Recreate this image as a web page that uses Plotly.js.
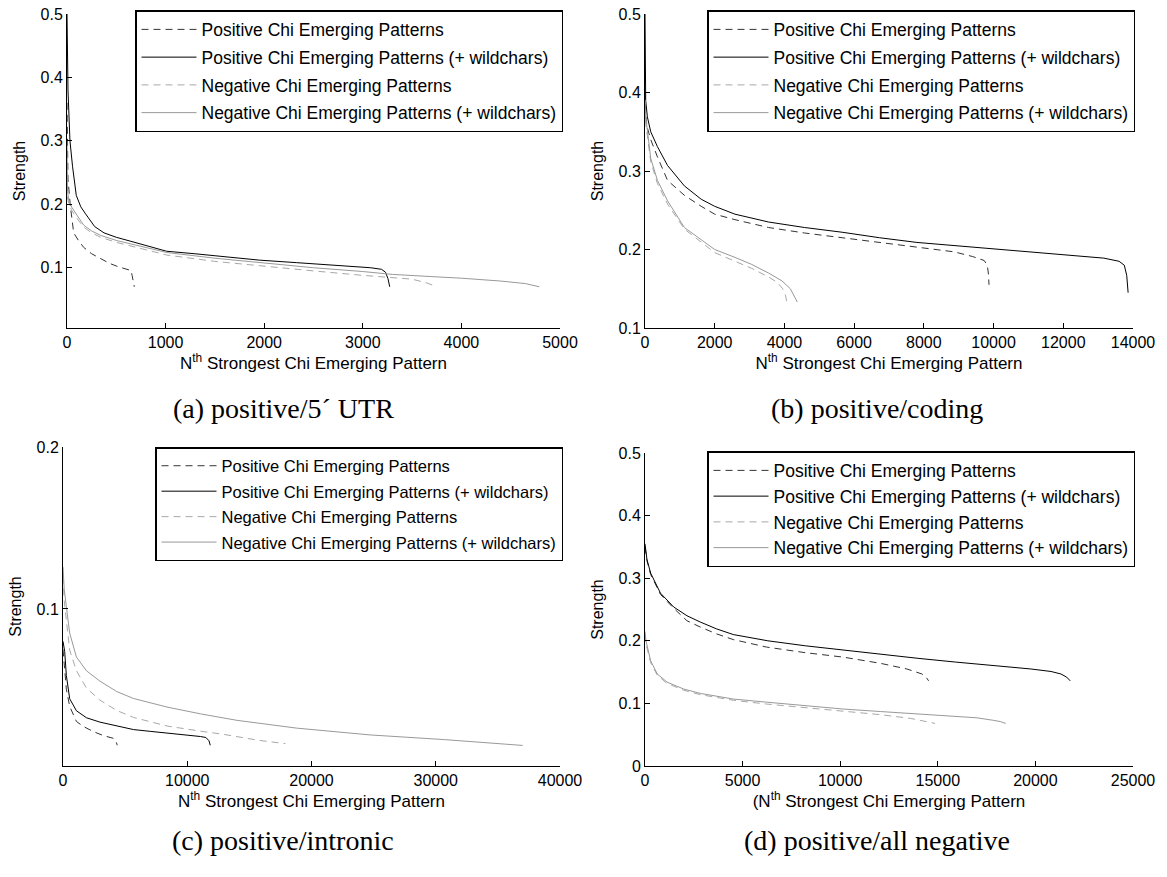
<!DOCTYPE html>
<html>
<head>
<meta charset="utf-8">
<script src="https://cdn.plot.ly/plotly-3.0.1.min.js"></script>
<style>html,body{margin:0;padding:0;background:#fff;}#chart{width:1167px;height:877px;}</style>
</head>
<body>
<div id="chart"></div>
<script>
// ---------- series names ----------
const seriesNames = [
  "Positive Chi Emerging Patterns",
  "Positive Chi Emerging Patterns (+ wildchars)",
  "Negative Chi Emerging Patterns",
  "Negative Chi Emerging Patterns (+ wildchars)"
];
const captions = ["(a) positive/5\u00b4 UTR", "(b) positive/coding", "(c) positive/intronic", "(d) positive/all negative"];
const xTitles = [
  "N<sup>th</sup> Strongest Chi Emerging Pattern",
  "N<sup>th</sup> Strongest Chi Emerging Pattern",
  "N<sup>th</sup> Strongest Chi Emerging Pattern",
  "(N<sup>th</sup> Strongest Chi Emerging Pattern"
];
const yTitle = "Strength";

// ---------- (a) positive / 5' UTR ----------
const posA_x = [0, 10, 34, 68, 120, 170, 250, 341, 430, 512, 600, 650, 660, 670, 683];
const posA_y = [0.36, 0.24, 0.197, 0.155, 0.142, 0.132, 0.122, 0.114, 0.107, 0.102, 0.098, 0.0955, 0.088, 0.078, 0.07];
const posWA_x = [0, 10, 30, 56, 94, 140, 188, 280, 375, 500, 640, 800, 1010, 1300, 1580, 1950, 2330, 2700, 3080, 3190, 3230, 3255, 3273];
const posWA_y = [0.5, 0.38, 0.3, 0.26, 0.214, 0.196, 0.185, 0.165, 0.155, 0.148, 0.142, 0.135, 0.126, 0.122, 0.118, 0.112, 0.108, 0.104, 0.1, 0.0975, 0.093, 0.083, 0.07];
const negA_x = [0, 5, 20, 50, 100, 170, 250, 341, 500, 683, 1013, 1500, 2000, 2500, 3000, 3300, 3500, 3650, 3750];
const negA_y = [0.25, 0.21, 0.2, 0.19, 0.178, 0.164, 0.155, 0.148, 0.14, 0.133, 0.12, 0.11, 0.102, 0.095, 0.088, 0.085, 0.082, 0.076, 0.07];
const negWA_x = [0, 5, 20, 50, 100, 170, 250, 341, 500, 683, 1013, 1500, 2000, 2500, 3000, 3300, 3700, 4000, 4400, 4650, 4790];
const negWA_y = [0.3, 0.22, 0.205, 0.195, 0.183, 0.167, 0.158, 0.151, 0.143, 0.136, 0.124, 0.115, 0.107, 0.1, 0.094, 0.0895, 0.086, 0.0835, 0.079, 0.075, 0.07];

// ---------- (b) positive / coding ----------
const posB_x = [0, 20, 68, 164, 357, 647, 1130, 1613, 2000, 2580, 3545, 4580, 5654, 6727, 7800, 8872, 9400, 9730, 9820, 9850, 9870];
const posB_y = [0.4, 0.37, 0.355, 0.34, 0.318, 0.288, 0.269, 0.255, 0.245, 0.238, 0.228, 0.221, 0.215, 0.209, 0.203, 0.197, 0.191, 0.186, 0.18, 0.17, 0.155];
const posWB_x = [0, 20, 68, 164, 357, 647, 1130, 1613, 2000, 2580, 3545, 4580, 5654, 6727, 7800, 8872, 9945, 11017, 12090, 13163, 13600, 13750, 13820, 13860];
const posWB_y = [0.5, 0.39, 0.369, 0.35, 0.331, 0.307, 0.281, 0.264, 0.255, 0.245, 0.235, 0.228, 0.222, 0.215, 0.209, 0.205, 0.201, 0.197, 0.193, 0.189, 0.185, 0.18, 0.167, 0.145];
const negB_x = [0, 20, 68, 164, 357, 647, 1130, 1613, 2000, 2580, 3060, 3545, 3800, 3950, 4030, 4070];
const negB_y = [0.38, 0.36, 0.345, 0.312, 0.284, 0.258, 0.226, 0.209, 0.196, 0.185, 0.176, 0.165, 0.158, 0.15, 0.142, 0.133];
const negWB_x = [0, 20, 68, 164, 357, 647, 1130, 1613, 2000, 2580, 3060, 3545, 3930, 4170, 4300, 4370];
const negWB_y = [0.39, 0.37, 0.352, 0.316, 0.288, 0.262, 0.228, 0.212, 0.2, 0.19, 0.181, 0.17, 0.16, 0.15, 0.14, 0.133];

// ---------- (c) positive / intronic ----------
const posC_x = [0, 50, 135, 270, 540, 1080, 1620, 2430, 3240, 4050, 4250, 4370];
const posC_y = [0.075, 0.07, 0.065, 0.0504, 0.0398, 0.0305, 0.0275, 0.0243, 0.0218, 0.0201, 0.0185, 0.0158];
const posWC_x = [0, 50, 135, 270, 540, 1080, 1890, 2970, 4320, 5670, 7020, 8370, 9720, 11070, 11500, 11750, 11850];
const posWC_y = [0.08, 0.078, 0.0738, 0.0589, 0.0445, 0.0371, 0.0328, 0.0301, 0.0279, 0.0255, 0.0244, 0.0234, 0.0223, 0.0212, 0.0206, 0.0186, 0.0158];
const negC_x = [0, 100, 270, 540, 1080, 1890, 2970, 4320, 5670, 8370, 11070, 12800, 15800, 17900];
const negC_y = [0.12, 0.105, 0.093, 0.0745, 0.0618, 0.0511, 0.0437, 0.0373, 0.033, 0.0277, 0.0245, 0.0227, 0.0188, 0.0168];
const negWC_x = [0, 100, 270, 540, 1080, 1890, 2970, 4320, 5670, 8370, 11070, 14000, 18800, 24700, 30700, 34000, 37000];
const negWC_y = [0.126, 0.112, 0.1015, 0.085, 0.0703, 0.0618, 0.0554, 0.049, 0.0447, 0.0394, 0.0352, 0.0312, 0.0264, 0.0222, 0.0193, 0.0175, 0.0157];

// ---------- (d) positive / all negative ----------
const posD_x = [0, 30, 100, 290, 795, 1470, 2150, 2830, 3670, 4520, 6220, 8218, 10142, 12067, 13415, 14185, 14400, 14530];
const posD_y = [0.35, 0.342, 0.328, 0.306, 0.274, 0.252, 0.232, 0.222, 0.211, 0.202, 0.19, 0.181, 0.174, 0.164, 0.155, 0.147, 0.142, 0.136];
const posWD_x = [0, 30, 100, 290, 795, 1470, 2150, 2830, 3670, 4520, 6293, 8218, 10142, 12067, 13990, 15916, 17840, 19765, 20800, 21305, 21600, 21786];
const posWD_y = [0.355, 0.345, 0.33, 0.308, 0.276, 0.254, 0.24, 0.23, 0.219, 0.21, 0.2, 0.192, 0.185, 0.178, 0.172, 0.166, 0.161, 0.155, 0.151, 0.147, 0.142, 0.136];
const negD_x = [0, 50, 290, 630, 1130, 1980, 2830, 4520, 6220, 8218, 10142, 12067, 13607, 14300, 14860];
const negD_y = [0.21, 0.195, 0.165, 0.145, 0.132, 0.121, 0.114, 0.105, 0.099, 0.093, 0.088, 0.082, 0.076, 0.072, 0.068];
const negWD_x = [0, 50, 290, 630, 1130, 1980, 2830, 4520, 6220, 8218, 10142, 12067, 13990, 15916, 17000, 17840, 18200, 18475];
const negWD_y = [0.215, 0.2, 0.168, 0.147, 0.134, 0.123, 0.116, 0.107, 0.102, 0.096, 0.091, 0.087, 0.083, 0.08, 0.077, 0.073, 0.071, 0.068];

// ---------- axis ticks ----------
const xTicksA = [0, 1000, 2000, 3000, 4000, 5000];
const xTicksB = [0, 2000, 4000, 6000, 8000, 10000, 12000, 14000];
const xTicksC = [0, 10000, 20000, 30000, 40000];
const xTicksD = [0, 5000, 10000, 15000, 20000, 25000];
const yTicksA = [0.1, 0.2, 0.3, 0.4, 0.5];
const yTicksB = [0.1, 0.2, 0.3, 0.4, 0.5];
const yTicksC = [0.1, 0.2];
const yTicksD = [0, 0.1, 0.2, 0.3, 0.4, 0.5];

// ---------- styles ----------
const styles = [
  {color: "#333333", dash: "7px,5px"},
  {color: "#000000", dash: "solid"},
  {color: "#a8a8a8", dash: "7px,5px"},
  {color: "#999999", dash: "solid"}
];

const panels = [
  {xs: [posA_x, posWA_x, negA_x, negWA_x], ys: [posA_y, posWA_y, negA_y, negWA_y]},
  {xs: [posB_x, posWB_x, negB_x, negWB_x], ys: [posB_y, posWB_y, negB_y, negWB_y]},
  {xs: [posC_x, posWC_x, negC_x, negWC_x], ys: [posC_y, posWC_y, negC_y, negWC_y]},
  {xs: [posD_x, posWD_x, negD_x, negWD_x], ys: [posD_y, posWD_y, negD_y, negWD_y]}
];

const axSuffix = ["", "2", "3", "4"];
const legendIds = ["legend", "legend2", "legend3", "legend4"];
const traces = [];
panels.forEach((p, pi) => {
  for (let s = 0; s < 4; s++) {
    traces.push({
      type: "scatter", mode: "lines",
      x: p.xs[s], y: p.ys[s],
      name: seriesNames[s],
      xaxis: "x" + axSuffix[pi], yaxis: "y" + axSuffix[pi],
      legend: legendIds[pi],
      legendgroup: "g" + pi + "_" + s,
      line: {color: styles[s].color, dash: styles[s].dash, width: 1},
      hoverinfo: "skip"
    });
  }
});

const W = 1167, H = 877;
const px = v => v / W;
const py = v => 1 - v / H;

const tickFont = {family: "Arial, Liberation Sans, sans-serif", size: 16, color: "#000"};
const xTitleFont = {family: "Arial, Liberation Sans, sans-serif", size: 17, color: "#000"};
const yTitleFont = {family: "Arial, Liberation Sans, sans-serif", size: 16, color: "#000"};
function xaxis(domain, range, ticks, title, anchor) {
  return {
    domain: domain, range: range, anchor: anchor,
    tickvals: ticks, ticktext: ticks.map(String),
    ticks: "inside", ticklen: 5, tickcolor: "#000", tickwidth: 1,
    showline: true, linecolor: "#000", linewidth: 1,
    showgrid: false, zeroline: false, tickfont: tickFont,
    title: {text: title, font: xTitleFont, standoff: 4},
    fixedrange: true
  };
}
function yaxis(domain, range, ticks, anchor) {
  return {
    domain: domain, range: range, anchor: anchor,
    tickvals: ticks, ticktext: ticks.map(String),
    ticks: "inside", ticklen: 5, tickcolor: "#000", tickwidth: 1,
    showline: true, linecolor: "#000", linewidth: 1,
    showgrid: false, zeroline: false, tickfont: tickFont,
    title: {text: yTitle, font: yTitleFont, standoff: 10},
    fixedrange: true
  };
}
function legend(xr, yt, fsize, gap) {
  return {
    x: px(xr), y: py(yt), xanchor: "right", yanchor: "top",
    bgcolor: "#fff", bordercolor: "#000", borderwidth: 1.5,
    font: {family: "Arial, Liberation Sans, sans-serif", size: fsize, color: "#000"},
    itemwidth: 55, tracegroupgap: gap,
    traceorder: "grouped"
  };
}

const layout = {
  width: W, height: H,
  margin: {l: 0, r: 0, t: 0, b: 0},
  paper_bgcolor: "#fff", plot_bgcolor: "#fff",
  showlegend: true,
  xaxis:  xaxis([px(67), px(560)], [0, 5000], xTicksA, xTitles[0], "y"),
  yaxis:  yaxis([py(328), py(14)], [0.005, 0.5], yTicksA, "x"),
  xaxis2: xaxis([px(645), px(1133)], [0, 14000], xTicksB, xTitles[1], "y2"),
  yaxis2: yaxis([py(328), py(14)], [0.1, 0.5], yTicksB, "x2"),
  xaxis3: xaxis([px(63), px(560)], [0, 40000], xTicksC, xTitles[2], "y3"),
  yaxis3: yaxis([py(766), py(447)], [0.003, 0.2], yTicksC, "x3"),
  xaxis4: xaxis([px(645), px(1133)], [0, 25000], xTicksD, xTitles[3], "y4"),
  yaxis4: yaxis([py(766), py(453)], [0, 0.5], yTicksD, "x4"),
  legend:  legend(563, 10, 17.5, 2),
  legend2: legend(1135, 10, 17.5, 2),
  legend3: legend(563, 447, 16.5, 1),
  legend4: legend(1135, 451, 17.5, 0),
  annotations: [
    [283, 408], [877, 408], [283, 840], [877, 840]
  ].map((c, i) => ({
    text: captions[i], xref: "paper", yref: "paper",
    x: px(c[0]), y: py(c[1]), xanchor: "center", yanchor: "middle",
    showarrow: false,
    font: {family: "Liberation Serif, Times New Roman, serif", size: 28, color: "#000"}
  }))
};

Plotly.newPlot("chart", traces, layout, {staticPlot: true, displayModeBar: false});
</script>
</body>
</html>
